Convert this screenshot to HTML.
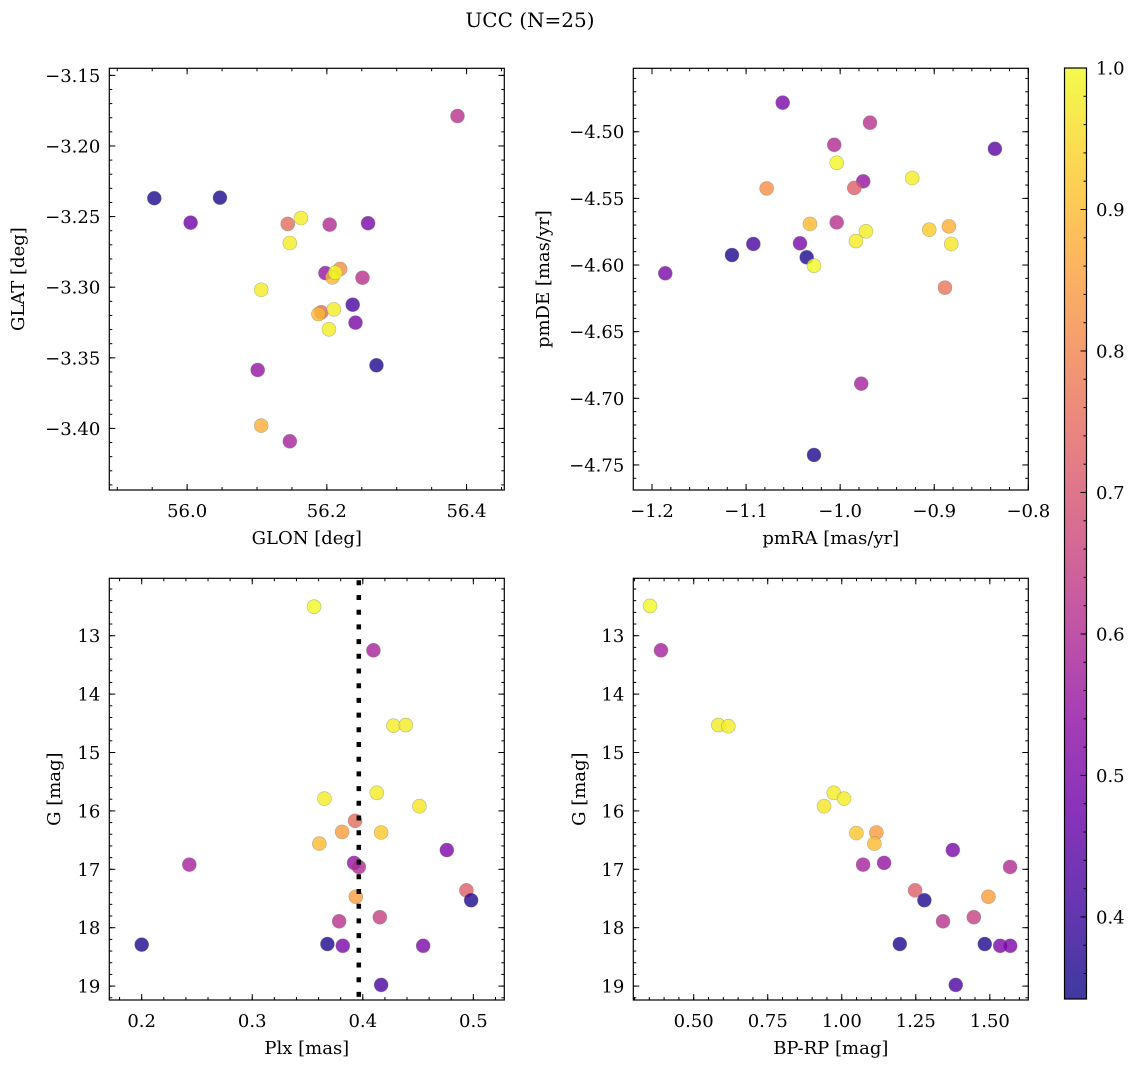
<!DOCTYPE html>
<html><head><meta charset="utf-8"><style>
html,body{margin:0;padding:0;background:#fff}
svg{display:block}
text{font-family:"DejaVu Serif","Liberation Serif",serif;fill:#000}
</style></head><body>
<svg id="fig" width="1136" height="1067" viewBox="0 0 1136 1067" xmlns="http://www.w3.org/2000/svg">
<text x="530" y="27" font-size="20" text-anchor="middle">UCC (N=25)</text>
</svg>
<script>
// ---- data (per panel) ----
const glon = [56.387,55.953,56.047,56.005,56.144,56.163,56.204,56.259,56.147,56.198,56.219,56.208,56.212,56.251,56.106,56.237,56.192,56.188,56.210,56.241,56.203,56.271,56.101,56.106,56.147];
const glat = [-3.1788,-3.237,-3.2366,-3.2543,-3.2552,-3.251,-3.2557,-3.2547,-3.2687,-3.29,-3.2871,-3.293,-3.2897,-3.2933,-3.3018,-3.3124,-3.3178,-3.319,-3.3157,-3.3251,-3.3298,-3.3553,-3.3586,-3.398,-3.4091];
const probTL = [0.62,0.36,0.36,0.48,0.75,0.98,0.6,0.5,0.98,0.55,0.82,0.9,1.0,0.62,0.98,0.42,0.75,0.9,0.98,0.5,0.98,0.36,0.55,0.88,0.58];

const pmra = [-1.0611,-0.9683,-1.0063,-1.0037,-0.8355,-0.9234,-0.9755,-0.9850,-1.0781,-1.0321,-1.0037,-0.9726,-0.9832,-0.9053,-0.8844,-0.8819,-1.0427,-1.0923,-1.1150,-1.0356,-1.0278,-1.1859,-0.8886,-0.9776,-1.0278];
const pmde = [-4.4782,-4.4932,-4.5098,-4.5233,-4.5128,-4.5347,-4.5372,-4.5422,-4.5425,-4.5692,-4.568,-4.5747,-4.582,-4.5735,-4.571,-4.5842,-4.5837,-4.5842,-4.5925,-4.5942,-4.6005,-4.6062,-4.617,-4.689,-4.7425];
const probTR = [0.5,0.62,0.6,1.0,0.45,0.98,0.55,0.72,0.82,0.9,0.62,0.98,0.98,0.93,0.88,0.97,0.5,0.42,0.36,0.36,1.0,0.5,0.77,0.58,0.36];

const plx = [0.3559,0.4096,0.4277,0.4389,0.4127,0.3653,0.4512,0.393,0.3813,0.4166,0.3607,0.476,0.2431,0.3921,0.3964,0.4937,0.498,0.3937,0.4154,0.3786,0.2,0.368,0.3819,0.4546,0.4166];
const gmagBL = [12.503,13.25,14.54,14.53,15.69,15.79,15.92,16.17,16.36,16.37,16.56,16.67,16.92,16.89,16.96,17.36,17.53,17.47,17.82,17.89,18.29,18.28,18.31,18.31,18.98];
const probBL = [1.0,0.58,0.98,0.98,0.98,0.98,0.97,0.75,0.85,0.92,0.9,0.5,0.58,0.55,0.6,0.72,0.36,0.85,0.65,0.62,0.36,0.36,0.5,0.5,0.42];
const plxMedian = 0.3964;

const bprp = [0.3524,0.3895,0.5831,0.6169,0.973,1.0078,0.9402,1.0493,1.1169,1.1101,1.375,1.072,1.143,1.5686,1.2476,1.279,1.4953,1.446,1.342,1.196,1.483,1.535,1.569,1.385];
const gmagBR = [12.49,13.25,14.53,14.55,15.69,15.79,15.92,16.38,16.37,16.56,16.67,16.92,16.89,16.96,17.36,17.53,17.47,17.82,17.89,18.28,18.28,18.31,18.31,18.98];
const probBR = [1.0,0.58,0.98,0.98,0.98,0.98,0.97,0.92,0.85,0.9,0.5,0.58,0.55,0.6,0.72,0.36,0.85,0.65,0.62,0.36,0.36,0.5,0.5,0.42];

const ticksGLON = [56.0,56.2,56.4];
const ticksGLAT = [-3.15,-3.20,-3.25,-3.30,-3.35,-3.40];
const ticksPMRA = [-1.2,-1.1,-1.0,-0.9,-0.8];
const ticksPMDE = [-4.50,-4.55,-4.60,-4.65,-4.70,-4.75];
const ticksPLX = [0.2,0.3,0.4,0.5];
const ticksG = [13,14,15,16,17,18,19];
const ticksBPRP = [0.50,0.75,1.00,1.25,1.50];
const ticksCB = [0.4,0.5,0.6,0.7,0.8,0.9,1.0];

const vmin = 0.342, vmax = 1.0;
const plasma = ["#0d0887","#41049d","#6a00a8","#8f0da4","#b12a90","#cc4778","#e16462","#f2844b","#fca636","#fcce25","#f0f921"];

const NS = "http://www.w3.org/2000/svg";
const svg = document.getElementById("fig");
const FS = 18;
function mk(tag, attrs, parent){const e=document.createElementNS(NS,tag);for(const k in attrs)e.setAttribute(k,attrs[k]);(parent||svg).appendChild(e);return e;}
function hex(h){return [parseInt(h.slice(1,3),16),parseInt(h.slice(3,5),16),parseInt(h.slice(5,7),16)];}
function cmap(v){
  let t=(v-vmin)/(vmax-vmin); t=Math.max(0,Math.min(1,t));
  const p=t*10, i=Math.min(9,Math.floor(p)), f=p-i;
  const a=hex(plasma[i]), b=hex(plasma[i+1]);
  return "rgb("+a.map((x,k)=>Math.round(x+(b[k]-x)*f)).join(",")+")";
}

function panel(o){
  const g = mk("g",{});
  
  
  const sx = v => o.x0 + (v-o.xlo)/(o.xhi-o.xlo)*(o.x1-o.x0);
  const sy = o.yinv ? (v => o.y0 + (v-o.ylo)/(o.yhi-o.ylo)*(o.y1-o.y0))
                    : (v => o.y1 - (v-o.ylo)/(o.yhi-o.ylo)*(o.y1-o.y0));
  const tg = mk("g",{stroke:"#000","stroke-width":1},g);
  function minors(lo,hi,step){const r=[];let s=Math.ceil(Math.min(lo,hi)/step-1e-6);for(let v=s*step;v<=Math.max(lo,hi)+1e-9;v=(++s)*step)r.push(v);return r;}
  minors(o.xlo,o.xhi,o.xminor).forEach(v=>{const x=sx(v);mk("line",{x1:x,x2:x,y1:o.y1,y2:o.y1-3},tg);mk("line",{x1:x,x2:x,y1:o.y0,y2:o.y0+3},tg);});
  minors(o.ylo,o.yhi,o.yminor).forEach(v=>{const y=sy(v);mk("line",{x1:o.x0,x2:o.x0+3,y1:y,y2:y},tg);mk("line",{x1:o.x1,x2:o.x1-3,y1:y,y2:y},tg);});
  o.xt.forEach(v=>{const x=sx(v);mk("line",{x1:x,x2:x,y1:o.y1,y2:o.y1-6},tg);mk("line",{x1:x,x2:x,y1:o.y0,y2:o.y0+6},tg);
    const t=mk("text",{x:x,y:o.y1+27,"font-size":FS,"text-anchor":"middle"},g);t.textContent=o.xf(v).replace("-","\u2212");
    
    });
  o.yt.forEach(v=>{const y=sy(v);mk("line",{x1:o.x0,x2:o.x0+6,y1:y,y2:y},tg);mk("line",{x1:o.x1,x2:o.x1-6,y1:y,y2:y},tg);
    const t=mk("text",{x:o.x0-9,y:y+6.5,"font-size":FS,"text-anchor":"end"},g);t.textContent=o.yf(v).replace("-","\u2212");
    
    });
  const pg = mk("g",{},g);
  o.xs.forEach((xv,i)=>{
    const c=mk("circle",{cx:sx(xv),cy:sy(o.ys[i]),r:7,fill:cmap(o.cs[i]),"fill-opacity":0.8,stroke:"#777","stroke-opacity":0.5,"stroke-width":0.6},pg);
    
    
  });
  if(o.vline!==undefined){
    const l=mk("line",{x1:sx(o.vline),x2:sx(o.vline),y1:o.y0+2,y2:o.y1,stroke:"#000","stroke-width":4.5,"stroke-dasharray":"5 9.7"},g);
    
    
  }
  const fr=mk("rect",{x:o.x0,y:o.y0,width:o.x1-o.x0,height:o.y1-o.y0,fill:"none",stroke:"#000","stroke-width":1.2},g);
  
  
  const xl=mk("text",{x:(o.x0+o.x1)/2,y:o.y1+54,"font-size":FS,"text-anchor":"middle"},g);xl.textContent=o.xlabel;
  
  
  const yc=(o.y0+o.y1)/2;
  const yl=mk("text",{x:o.ylx,y:yc,"font-size":FS,"text-anchor":"middle",transform:"rotate(-90 "+o.ylx+" "+yc+")"},g);yl.textContent=o.ylabel;
  
  
}
const f1=v=>v.toFixed(1), f2=v=>v.toFixed(2), f0=v=>v.toFixed(0);
panel({name:"glon-glat-panel",x0:109.3,x1:504.3,y0:68.3,y1:490,xlo:55.8886,xhi:56.454,ylo:-3.4436,yhi:-3.145,
  xt:ticksGLON,yt:ticksGLAT,xminor:0.05,yminor:0.01,xf:f1,yf:f2,xs:glon,ys:glat,cs:probTL,xlabel:"GLON [deg]",ylabel:"GLAT [deg]",ylx:24});
panel({name:"pm-panel",x0:633.3,x1:1028.3,y0:68.3,y1:490,xlo:-1.2199,xhi:-0.8,ylo:-4.7688,yhi:-4.4524,
  xt:ticksPMRA,yt:ticksPMDE,xminor:0.02,yminor:0.01,xf:f1,yf:f2,xs:pmra,ys:pmde,cs:probTR,xlabel:"pmRA [mas/yr]",ylabel:"pmDE [mas/yr]",ylx:549});
panel({name:"plx-g-panel",x0:109.3,x1:504.3,y0:578.3,y1:1000,xlo:0.1707,xhi:0.528,ylo:12.017,yhi:19.238,yinv:true,
  xt:ticksPLX,yt:ticksG,xminor:0.02,yminor:0.2,xf:f1,yf:f0,xs:plx,ys:gmagBL,cs:probBL,vline:plxMedian,xlabel:"Plx [mas]",ylabel:"G [mag]",ylx:60});
panel({name:"cmd-panel",x0:633.3,x1:1028.3,y0:578.3,y1:1000,xlo:0.296,xhi:1.630,ylo:12.017,yhi:19.238,yinv:true,
  xt:ticksBPRP,yt:ticksG,xminor:0.05,yminor:0.2,xf:f2,yf:f0,xs:bprp,ys:gmagBR,cs:probBR,xlabel:"BP-RP [mag]",ylabel:"G [mag]",ylx:585});

(function(){
  const x0=1064.5,x1=1086.5,y0=68,y1=999;
  const defs=mk("defs",{});
  const lg=mk("linearGradient",{id:"cbg",x1:0,y1:1,x2:0,y2:0},defs);
  plasma.forEach((c,i)=>mk("stop",{offset:(i/10),"stop-color":c},lg));
  const cb=mk("g",{});
  
  
  mk("rect",{x:x0,y:y0,width:x1-x0,height:y1-y0,fill:"url(#cbg)","fill-opacity":0.8},cb);
  const sy=v=>y1-(v-vmin)/(vmax-vmin)*(y1-y0);
  for(let k=Math.ceil(vmin/0.02);k*0.02<=vmax+1e-9;k++){const y=sy(k*0.02);mk("line",{x1:x1,x2:x1-3,y1:y,y2:y,stroke:"#000"},cb);}
  ticksCB.forEach(v=>{const y=sy(v);mk("line",{x1:x1,x2:x1-6,y1:y,y2:y,stroke:"#000"},cb);
    const t=mk("text",{x:1096,y:y+6.5,"font-size":FS},cb);t.textContent=v.toFixed(1);
    
    });
  mk("rect",{x:x0,y:y0,width:x1-x0,height:y1-y0,fill:"none",stroke:"#000","stroke-width":1.2},cb);
})();
</script>
</body></html>
